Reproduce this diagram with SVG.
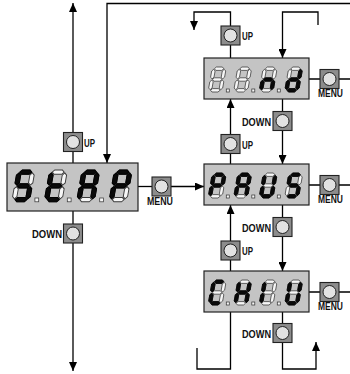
<svg xmlns="http://www.w3.org/2000/svg" xmlns:xlink="http://www.w3.org/1999/xlink" width="350" height="374" viewBox="0 0 350 374">
<style>
.disp{fill:#c4c4c4;stroke:#222;stroke-width:1.2}
.off{fill:#f6f6f6;stroke:#3a3a3a;stroke-width:0.75}
.on{fill:#0a0a0a;stroke:#000;stroke-width:0.75}
.btn{fill:#8c8c8c;stroke:#222;stroke-width:1.1}
.knob{fill:#e2e2e2;stroke:#222;stroke-width:1}
.ln{fill:none;stroke:#000;stroke-width:1.3}
.lbl{font-family:"Liberation Sans",Arial,sans-serif;font-weight:bold;font-size:10px;fill:#111}
</style>
<defs>
<marker id="ah" markerUnits="userSpaceOnUse" markerWidth="9" markerHeight="8" refX="9" refY="4" orient="auto">
<path d="M0,0 L9,4 L0,8 z" fill="#000"/>
</marker>
<polygon id="sa" points="2.3,1.7 4,0 10,0 11.7,1.7 10,3.4 4,3.4"/>
<polygon id="sg" points="2.3,12.5 4,10.8 10,10.8 11.7,12.5 10,14.2 4,14.2"/>
<polygon id="sd" points="2.3,23.3 4,21.6 10,21.6 11.7,23.3 10,25 4,25"/>
<polygon id="sf" points="1.7,2.3 3.4,4 3.4,10.2 1.7,11.9 0,10.2 0,4"/>
<polygon id="sb" points="12.3,2.3 14,4 14,10.2 12.3,11.9 10.6,10.2 10.6,4"/>
<polygon id="se" points="1.7,13.1 3.4,14.8 3.4,21 1.7,22.7 0,21 0,14.8"/>
<polygon id="sc" points="12.3,13.1 14,14.8 14,21 12.3,22.7 10.6,21 10.6,14.8"/>
<g id="off8" class="off">
<use href="#sa"/><use href="#sb"/><use href="#sc"/><use href="#sd"/><use href="#se"/><use href="#sf"/><use href="#sg"/>
</g>
<g id="btn">
<rect class="btn" x="0" y="0" width="19" height="19"/>
<circle class="knob" cx="9.5" cy="9.5" r="6.5"/>
</g>
</defs>

<g id="connectors">
<path class="ln" d="M73,132.5 V3" marker-end="url(#ah)"/>
<path class="ln" d="M73,151.5 V163"/>
<path class="ln" d="M73,211 V224"/>
<path class="ln" d="M73,243 V371" marker-end="url(#ah)"/>
<path class="ln" d="M350,3.5 H107 V163" marker-end="url(#ah)"/>
<path class="ln" d="M138,186.5 H152"/>
<path class="ln" d="M171,186.5 H204" marker-end="url(#ah)"/>
<path class="ln" d="M230.5,26 V12 H194 V30" marker-end="url(#ah)"/>
<path class="ln" d="M230.5,45 V58"/>
<path class="ln" d="M318,25 V12 H282.5 V58" marker-end="url(#ah)"/>
<path class="ln" d="M309,79 H320 M339,79 H350"/>
<path class="ln" d="M282.5,99 V111.5"/>
<path class="ln" d="M282.5,130.5 V164" marker-end="url(#ah)"/>
<path class="ln" d="M230.5,164 V153.5"/>
<path class="ln" d="M230.5,134.5 V99" marker-end="url(#ah)"/>
<path class="ln" d="M309,185 H320 M339,185 H350"/>
<path class="ln" d="M282.5,205 V217.5"/>
<path class="ln" d="M282.5,236.5 V271" marker-end="url(#ah)"/>
<path class="ln" d="M230.5,271 V260"/>
<path class="ln" d="M230.5,241 V205" marker-end="url(#ah)"/>
<path class="ln" d="M309,292 H320 M339,292 H350"/>
<path class="ln" d="M282.5,312 V323.5"/>
<path class="ln" d="M282.5,342.5 V369 H316 V342" marker-end="url(#ah)"/>
<path class="ln" d="M230.5,312 V369 H197 V348"/>
</g>

<g id="display-stap">
<rect class="disp" x="7" y="163" width="131" height="48"/>
<g transform="translate(17.3,170) scale(1.27) skewX(-10)"><use href="#off8"/><use href="#sa" class="on"/><use href="#sf" class="on"/><use href="#sg" class="on"/><use href="#sc" class="on"/><use href="#sd" class="on"/></g>
<g transform="translate(49.7,170) scale(1.27) skewX(-10)"><use href="#off8"/><use href="#sf" class="on"/><use href="#sg" class="on"/><use href="#se" class="on"/><use href="#sd" class="on"/></g>
<g transform="translate(82.1,170) scale(1.27) skewX(-10)"><use href="#off8"/><use href="#sa" class="on"/><use href="#sb" class="on"/><use href="#sc" class="on"/><use href="#se" class="on"/><use href="#sf" class="on"/><use href="#sg" class="on"/></g>
<g transform="translate(114.5,170) scale(1.27) skewX(-10)"><use href="#off8"/><use href="#sa" class="on"/><use href="#sb" class="on"/><use href="#se" class="on"/><use href="#sf" class="on"/><use href="#sg" class="on"/></g>
<rect class="off" x="34.9" y="198" width="3.8" height="3.8"/>
<rect class="off" x="67.3" y="198" width="3.8" height="3.8"/>
<rect class="off" x="99.7" y="198" width="3.8" height="3.8"/>
</g>

<g id="display-nd">
<rect class="disp" x="204" y="58" width="105" height="41"/>
<g transform="translate(212.4,67) skewX(-10)"><use href="#off8"/></g>
<g transform="translate(237.9,67) skewX(-10)"><use href="#off8"/></g>
<g transform="translate(263.4,67) skewX(-10)"><use href="#off8"/><use href="#sc" class="on"/><use href="#se" class="on"/><use href="#sg" class="on"/></g>
<g transform="translate(288.9,67) skewX(-10)"><use href="#off8"/><use href="#sb" class="on"/><use href="#sc" class="on"/><use href="#sd" class="on"/><use href="#se" class="on"/><use href="#sg" class="on"/></g>
<rect class="off" x="226.3" y="89" width="3" height="3"/>
<rect class="off" x="251.8" y="89" width="3" height="3"/>
<rect class="off" x="277.3" y="89" width="3" height="3"/>
</g>

<g id="display-paus">
<rect class="disp" x="204" y="164" width="105" height="41"/>
<g transform="translate(212.4,173) skewX(-10)"><use href="#off8"/><use href="#sa" class="on"/><use href="#sb" class="on"/><use href="#se" class="on"/><use href="#sf" class="on"/><use href="#sg" class="on"/></g>
<g transform="translate(237.9,173) skewX(-10)"><use href="#off8"/><use href="#sa" class="on"/><use href="#sb" class="on"/><use href="#sc" class="on"/><use href="#se" class="on"/><use href="#sf" class="on"/><use href="#sg" class="on"/></g>
<g transform="translate(263.4,173) skewX(-10)"><use href="#off8"/><use href="#sb" class="on"/><use href="#sc" class="on"/><use href="#sd" class="on"/><use href="#se" class="on"/><use href="#sf" class="on"/></g>
<g transform="translate(288.9,173) skewX(-10)"><use href="#off8"/><use href="#sa" class="on"/><use href="#sf" class="on"/><use href="#sg" class="on"/><use href="#sc" class="on"/><use href="#sd" class="on"/></g>
<rect class="off" x="226.3" y="195" width="3" height="3"/>
<rect class="off" x="251.8" y="195" width="3" height="3"/>
<rect class="off" x="277.3" y="195" width="3" height="3"/>
</g>

<g id="display-chiu">
<rect class="disp" x="204" y="271" width="105" height="41"/>
<g transform="translate(212.4,280) skewX(-10)"><use href="#off8"/><use href="#sa" class="on"/><use href="#sf" class="on"/><use href="#se" class="on"/><use href="#sd" class="on"/></g>
<g transform="translate(237.9,280) skewX(-10)"><use href="#off8"/><use href="#sb" class="on"/><use href="#sc" class="on"/><use href="#se" class="on"/><use href="#sf" class="on"/><use href="#sg" class="on"/></g>
<g transform="translate(263.4,280) skewX(-10)"><use href="#off8"/><use href="#se" class="on"/><use href="#sf" class="on"/></g>
<g transform="translate(288.9,280) skewX(-10)"><use href="#off8"/><use href="#sb" class="on"/><use href="#sc" class="on"/><use href="#sd" class="on"/><use href="#se" class="on"/><use href="#sf" class="on"/></g>
<rect class="off" x="226.3" y="302" width="3" height="3"/>
<rect class="off" x="251.8" y="302" width="3" height="3"/>
<rect class="off" x="277.3" y="302" width="3" height="3"/>
</g>

<g id="btn-left-up"><use href="#btn" x="63.5" y="132.5"/><text class="lbl" x="84" y="146.5" textLength="11" lengthAdjust="spacingAndGlyphs">UP</text></g>
<g id="btn-left-down"><use href="#btn" x="63.5" y="224"/><text class="lbl" x="32" y="238" textLength="30" lengthAdjust="spacingAndGlyphs">DOWN</text></g>
<g id="btn-left-menu"><use href="#btn" x="152" y="177"/><text class="lbl" x="147" y="205" textLength="26" lengthAdjust="spacingAndGlyphs">MENU</text></g>

<g id="btn-top-up"><use href="#btn" x="221" y="26"/><text class="lbl" x="242" y="40" textLength="11" lengthAdjust="spacingAndGlyphs">UP</text></g>
<g id="btn-top-menu"><use href="#btn" x="320" y="69.5"/><text class="lbl" x="318" y="97" textLength="25" lengthAdjust="spacingAndGlyphs">MENU</text></g>
<g id="btn-top-down"><use href="#btn" x="273" y="111.5"/><text class="lbl" x="242" y="125.5" textLength="29" lengthAdjust="spacingAndGlyphs">DOWN</text></g>

<g id="btn-mid-up"><use href="#btn" x="221" y="134.5"/><text class="lbl" x="242" y="148.5" textLength="11" lengthAdjust="spacingAndGlyphs">UP</text></g>
<g id="btn-mid-menu"><use href="#btn" x="320" y="175.5"/><text class="lbl" x="318" y="203" textLength="25" lengthAdjust="spacingAndGlyphs">MENU</text></g>
<g id="btn-mid-down"><use href="#btn" x="273" y="217.5"/><text class="lbl" x="242" y="231.5" textLength="29" lengthAdjust="spacingAndGlyphs">DOWN</text></g>

<g id="btn-bot-up"><use href="#btn" x="221" y="241"/><text class="lbl" x="242" y="255" textLength="11" lengthAdjust="spacingAndGlyphs">UP</text></g>
<g id="btn-bot-menu"><use href="#btn" x="320" y="282.5"/><text class="lbl" x="318" y="310" textLength="25" lengthAdjust="spacingAndGlyphs">MENU</text></g>
<g id="btn-bot-down"><use href="#btn" x="273" y="323.5"/><text class="lbl" x="242" y="337.5" textLength="29" lengthAdjust="spacingAndGlyphs">DOWN</text></g>
</svg>
